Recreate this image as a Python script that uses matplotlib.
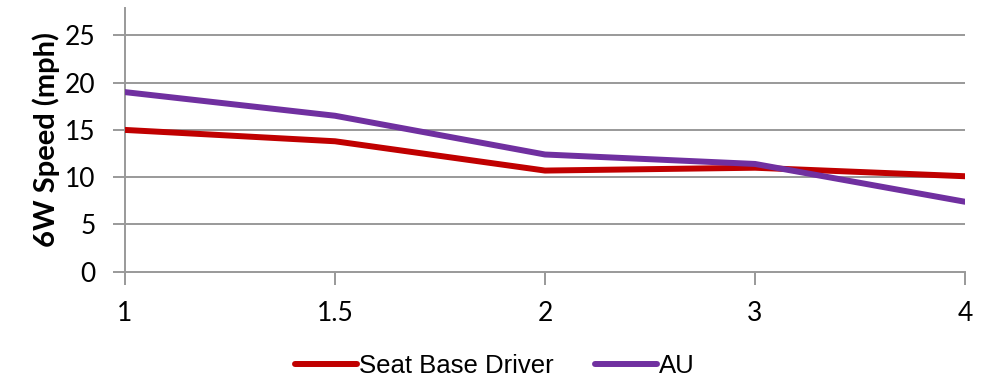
import matplotlib
matplotlib.use('Agg')
import matplotlib.pyplot as plt

# speed per category
categories = ['1', '1.5', '2', '3', '4']
seat_base_driver = [15.0, 13.8, 10.7, 11.0, 10.1]
au = [19.0, 16.5, 12.4, 11.4, 7.4]
yticks = [0, 5, 10, 15, 20, 25]

grey = '#999999'

fig = plt.figure(figsize=(9.9, 3.84), dpi=100)
ax = fig.add_axes([125 / 990, (384 - 271.7) / 384, 840 / 990, 263.7 / 384])

x = range(len(categories))
ax.plot(x, seat_base_driver, color='#C00000', lw=4.3, solid_capstyle='round',
        label='Seat Base Driver', zorder=3)
ax.plot(x, au, color='#7030A0', lw=4.3, solid_capstyle='round',
        label='AU', zorder=4)

ax.set_xlim(0, len(categories) - 1)
ax.set_ylim(0, 27.9)
ax.set_xticks(list(x))
ax.set_xticklabels(categories, fontsize=19, family='Lato')
ax.set_yticks(yticks)
ax.set_yticklabels([str(v) for v in yticks], fontsize=19, family='Lato')

for v in yticks[1:]:
    ax.axhline(v, color=grey, lw=1.4, zorder=1)

for side in ['top', 'right']:
    ax.spines[side].set_visible(False)
for side in ['left', 'bottom']:
    ax.spines[side].set_color(grey)
    ax.spines[side].set_linewidth(1.4)
ax.tick_params(axis='both', color=grey, width=1.4, length=9)
ax.tick_params(axis='x', pad=12)
ax.tick_params(axis='y', pad=12)

ax.set_ylabel('6W Speed (mph)', fontsize=21, fontweight='bold', family='Lato', labelpad=4)

fig.legend(loc='lower center', bbox_to_anchor=(0.5, -0.045), ncol=2, frameon=False,
           prop={'family': 'Liberation Sans', 'size': 18.5}, handlelength=2.4,
           handletextpad=0.1, columnspacing=1.6)

fig.savefig('out.png', dpi=100)
